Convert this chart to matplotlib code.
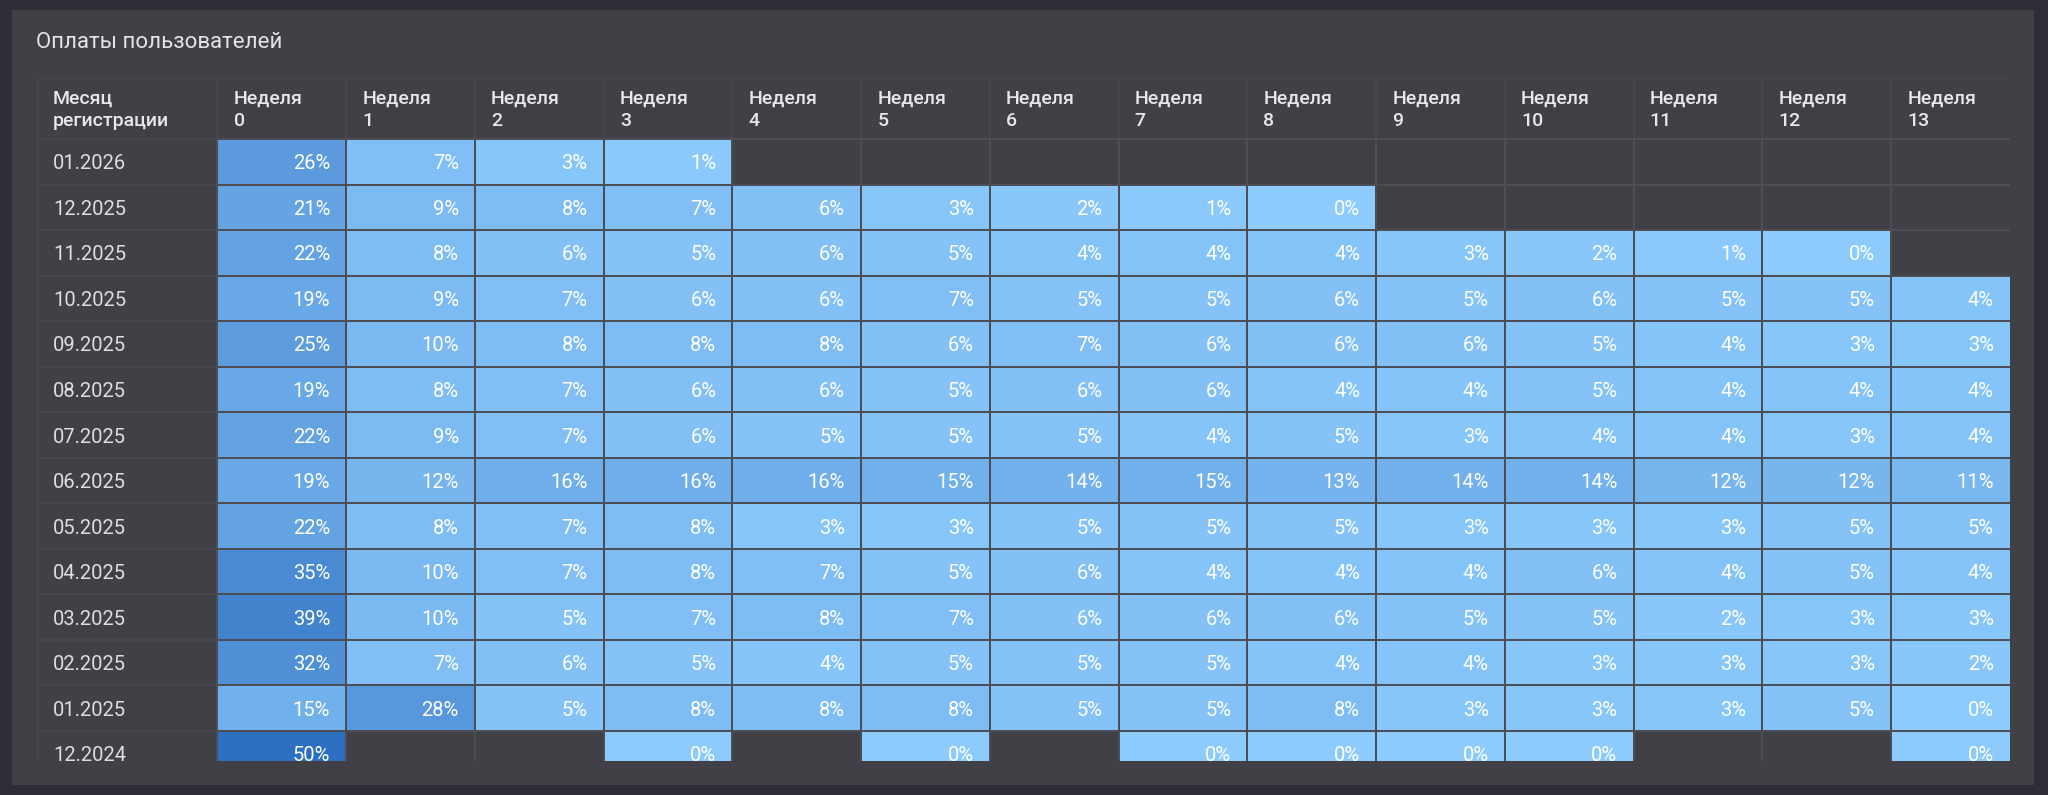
import numpy as np
import matplotlib.pyplot as plt
from matplotlib.colors import LinearSegmentedColormap
from matplotlib.patches import Rectangle

plt.rcParams["font.family"] = ["Roboto", "DejaVu Sans"]

N = None
title = "Оплаты пользователей"
row_header = "Месяц\nрегистрации"
weeks = [f"Неделя\n{i}" for i in range(14)]
cohorts = [
    "01.2026", "12.2025", "11.2025", "10.2025", "09.2025", "08.2025", "07.2025",
    "06.2025", "05.2025", "04.2025", "03.2025", "02.2025", "01.2025", "12.2024",
]
# share of paying users, % (rows = cohort, cols = week)
payments = [
    [26, 7, 3, 1, N, N, N, N, N, N, N, N, N, N],
    [21, 9, 8, 7, 6, 3, 2, 1, 0, N, N, N, N, N],
    [22, 8, 6, 5, 6, 5, 4, 4, 4, 3, 2, 1, 0, N],
    [19, 9, 7, 6, 6, 7, 5, 5, 6, 5, 6, 5, 5, 4],
    [25, 10, 8, 8, 8, 6, 7, 6, 6, 6, 5, 4, 3, 3],
    [19, 8, 7, 6, 6, 5, 6, 6, 4, 4, 5, 4, 4, 4],
    [22, 9, 7, 6, 5, 5, 5, 4, 5, 3, 4, 4, 3, 4],
    [19, 12, 16, 16, 16, 15, 14, 15, 13, 14, 14, 12, 12, 11],
    [22, 8, 7, 8, 3, 3, 5, 5, 5, 3, 3, 3, 5, 5],
    [35, 10, 7, 8, 7, 5, 6, 4, 4, 4, 6, 4, 5, 4],
    [39, 10, 5, 7, 8, 7, 6, 6, 6, 5, 5, 2, 3, 3],
    [32, 7, 6, 5, 4, 5, 5, 5, 4, 4, 3, 3, 3, 2],
    [15, 28, 5, 8, 8, 8, 5, 5, 8, 3, 3, 3, 5, 0],
    [50, N, N, 0, N, 0, N, 0, 0, 0, 0, N, N, 0],
]

values = np.ma.masked_invalid(np.array(payments, dtype=float))

W, H = 2048, 795
BG = "#2f2e36"
PANEL = "#414047"
GRID = "#4a4950"
EDGE = "#4d4d55"

# table geometry in cell units (week column width / row height)
LABEL_W = 1.402
HEADER_H = 1.339
VISIBLE_W = 13.924
VISIBLE_H = 13.658
PAD_X = 0.125

fig = plt.figure(figsize=(W / 100, H / 100), dpi=100, facecolor=BG)
fig.add_artist(
    Rectangle(
        (12 / W, (H - 785) / H),
        2022 / W,
        775 / H,
        transform=fig.transFigure,
        facecolor=PANEL,
        edgecolor="none",
        zorder=0,
    )
)
fig.text(36 / W, 1 - 43 / H, title, ha="left", va="center", fontsize=16, color="#e4e4e6")

ax = fig.add_axes([37 / W, (H - 761) / H, 1973 / W, 683 / H])
ax.set_facecolor("none")
ax.set_xlim(-LABEL_W, VISIBLE_W)
ax.set_ylim(VISIBLE_H, -HEADER_H)
ax.axis("off")

n_rows, n_cols = values.shape
ax.hlines([-HEADER_H + 0.01] + list(range(n_rows)), -LABEL_W, VISIBLE_W, color=GRID, linewidth=1.1, zorder=1)
ax.vlines([-LABEL_W + 0.005] + list(range(n_cols)), -HEADER_H, VISIBLE_H, color=GRID, linewidth=1.1, zorder=1)

cmap = LinearSegmentedColormap.from_list("pay", ["#8dcbfd", "#2d6fc0"])
ax.pcolormesh(
    np.arange(n_cols + 1),
    np.arange(n_rows + 1),
    values,
    cmap=cmap,
    vmin=0,
    vmax=50,
    edgecolors=EDGE,
    linewidth=1.1,
    zorder=2,
)

hdr_y = -0.637
ax.text(-LABEL_W + PAD_X, hdr_y, row_header, ha="left", va="center", linespacing=1.32,
        fontsize=14, fontweight="medium", color="#e8e8ea", zorder=3)
for c, week in enumerate(weeks):
    ax.text(c + PAD_X, hdr_y, week, ha="left", va="center", linespacing=1.32,
            fontsize=14, fontweight="medium", color="#e8e8ea", zorder=3)

for r, cohort in enumerate(cohorts):
    ax.text(-LABEL_W + PAD_X, r + 0.5, cohort, ha="left", va="center_baseline",
            fontsize=14.5, color="#dedee0", zorder=3, clip_on=True)
    for c in range(n_cols):
        if values.mask[r, c]:
            continue
        right = min(c + 1, VISIBLE_W)
        ax.text(right - PAD_X, r + 0.5, f"{values[r, c]:.0f}%", ha="right",
                va="center_baseline", fontsize=14.5, color="white", zorder=3, clip_on=True)

fig.savefig("out.png", dpi=100, facecolor=fig.get_facecolor())
plt.close(fig)
